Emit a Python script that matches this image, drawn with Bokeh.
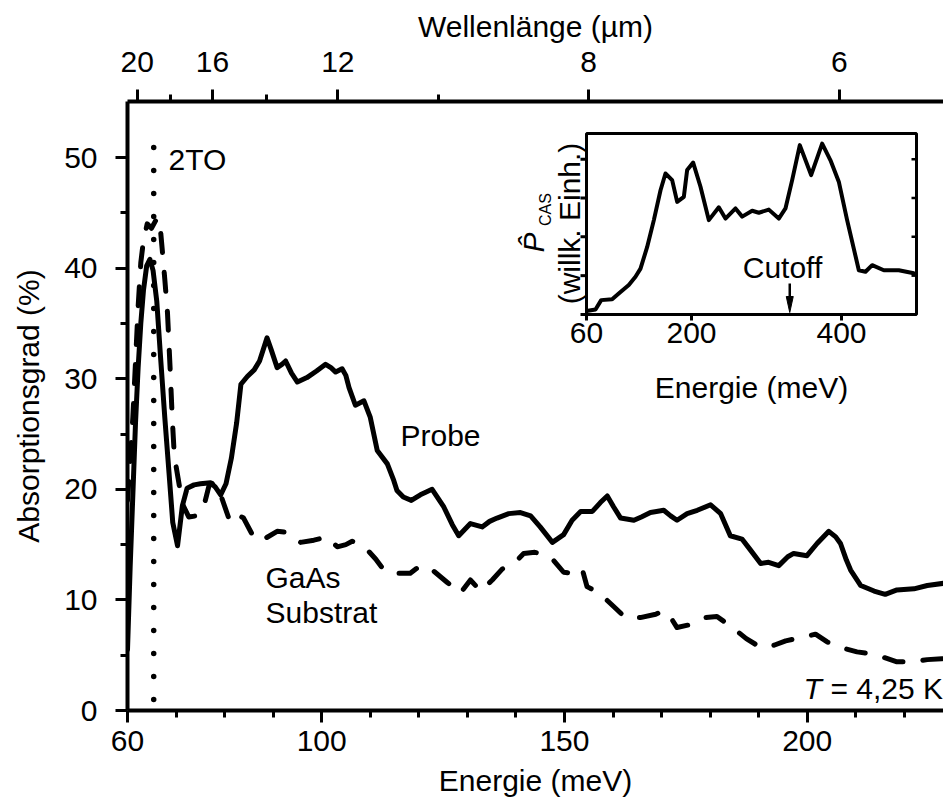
import numpy as np
from bokeh.plotting import figure
from bokeh.models import Range1d, LinearAxis, FixedTicker
from bokeh.core.properties import value
from bokeh.embed import file_html
from bokeh.resources import INLINE

# ---------------- data ----------------
probe_energy = [60.0, 60.55, 61.1, 61.65, 62.19, 62.74, 63.29, 63.95, 64.61, 65.26, 66.03, 66.8,
                67.68, 68.55, 69.32, 70.31, 71.3, 72.28, 73.71, 75.03, 77.11, 78.1, 79.19, 80.29,
                81.39, 82.48, 83.36, 84.68, 86.1, 87.2, 88.08, 88.74, 89.61, 90.82, 91.81, 92.57,
                93.78, 94.99, 96.96, 98.94, 100.8, 101.9, 102.88, 104.2, 104.97, 105.63, 106.94,
                108.7, 110.01, 111.44, 113.52, 114.84, 115.5, 116.81, 118.46, 120.32, 122.74,
                125.15, 126.9, 128.22, 130.63, 133.05, 134.58, 136.12, 138.53, 140.94, 143.03,
                145.0, 147.52, 149.83, 151.58, 153.34, 155.75, 157.4, 158.82, 160.14, 161.57,
                164.3, 165.84, 167.71, 170.45, 171.87, 173.19, 175.27, 177.36, 180.1, 182.18,
                184.16, 186.57, 188.33, 190.41, 192.05, 194.14, 196.0, 197.21, 199.95, 202.03,
                204.45, 205.87, 206.86, 208.07, 208.94, 211.03, 213.77, 216.07, 218.49, 221.99,
                224.74, 228.1]
probe_absorption = [5.5, 13.0, 19.5, 26.0, 31.0, 35.0, 38.0, 40.2, 40.8, 39.8, 37.0, 32.0,
                    26.5, 21.5, 17.0, 14.9, 18.5, 20.1, 20.4, 20.5, 20.6, 20.2, 19.5, 20.5,
                    22.8, 26.0, 29.5, 30.2, 30.8, 31.6, 32.8, 33.7, 32.6, 31.0, 31.3, 31.6,
                    30.5, 29.7, 30.1, 30.7, 31.3, 31.0, 30.6, 30.9, 30.3, 29.2, 27.6,
                    28.0, 26.5, 23.5, 22.3, 20.8, 19.9, 19.3, 19.0, 19.5, 20.0,
                    18.4, 16.8, 15.8, 16.9, 16.6, 17.1, 17.4, 17.8, 17.9, 17.6,
                    16.6, 15.2, 15.9, 17.2, 18.0, 18.0, 18.8, 19.4, 18.4, 17.4,
                    17.2, 17.5, 17.9, 18.1, 17.6, 17.2, 17.8, 18.1, 18.6, 17.8,
                    15.8, 15.5, 14.5, 13.3, 13.4, 13.1, 13.9, 14.2, 14.0, 15.1,
                    16.2, 15.7, 15.1, 13.6, 12.7, 11.3, 10.8, 10.5, 10.9, 11.0,
                    11.3, 11.5]

gaas_energy = [60.0, 60.55, 61.1, 61.65, 62.19, 62.74, 63.29, 64.06, 64.94, 65.81, 66.58, 67.13,
               67.68, 68.23, 68.77, 69.21, 69.65, 70.42, 71.3, 72.61, 74.26, 75.68, 76.78, 77.77,
               79.19, 81.17, 83.03, 83.91, 85.23, 86.32, 88.52, 90.82, 92.9, 94.0, 95.65, 98.39,
               101.13, 103.21, 104.97, 106.28, 108.81, 111.11, 112.65, 114.18, 115.94, 118.24,
               120.32, 123.07, 125.81, 128.55, 130.63, 132.72, 135.13, 137.21, 140.28, 141.6,
               143.9, 146.1, 147.52, 149.83, 151.58, 153.34, 153.78, 154.65, 155.97, 157.72,
               160.14, 162.55, 165.62, 168.8, 170.23, 171.32, 173.19, 176.26, 179.0, 181.42,
               184.6, 187.45, 190.41, 193.15, 195.57, 198.75, 201.71, 204.12, 206.86, 210.26,
               213.44, 215.75, 218.49, 221.78, 224.74, 228.1]
gaas_absorption = [19.0, 22.5, 26.5, 31.5, 36.5, 40.5, 42.5, 44.0, 43.6, 44.3, 44.5, 41.8,
                   39.0, 36.0, 31.0, 26.5, 23.0, 21.0, 18.7, 17.5, 17.6, 18.4, 20.3, 20.6,
                   19.5, 17.0, 17.6, 17.4, 16.3, 15.4, 15.6, 16.2, 16.1, 15.6, 15.2, 15.4,
                   15.7, 14.8, 15.0, 15.3, 14.8, 13.7, 12.8, 12.4, 12.4, 12.4,
                   13.1, 12.6, 11.6, 10.6, 11.8, 10.8, 11.8, 12.8, 13.6, 14.2,
                   14.3, 14.1, 13.7, 12.5, 12.4, 12.2, 12.6, 11.2, 10.9, 10.4,
                   9.4, 8.4, 8.4, 8.7, 9.0, 8.8, 7.5, 7.8, 8.4, 8.5,
                   7.5, 6.5, 5.7, 5.9, 6.3, 6.6, 6.9, 6.2, 5.7, 5.3,
                   5.1, 4.8, 4.4, 4.4, 4.6, 4.7]

inset_energy = [60.0, 72.0, 79.6, 94.2, 103.0, 116.4, 125.3, 132.0, 140.9, 149.8, 158.7, 165.3,
                174.2, 180.9, 189.8, 194.2, 202.2, 212.0, 223.1, 236.4, 245.3, 258.7, 267.6,
                280.9, 289.8, 303.1, 316.4, 325.3, 334.2, 344.4, 359.5, 374.2, 385.3, 396.4,
                407.5, 423.1, 432.0, 440.9, 456.4, 476.4, 496.4, 500.0]
inset_power = [0.09, 0.13, 0.37, 0.39, 0.54, 0.76, 0.97, 1.18, 1.74, 2.43, 3.2, 3.63,
               3.46, 2.9, 3.03, 3.72, 3.91, 3.29, 2.43, 2.76, 2.47, 2.73, 2.52,
               2.67, 2.62, 2.7, 2.47, 2.73, 3.46, 4.36, 3.59, 4.4, 3.97, 3.42,
               2.43, 1.14, 1.1, 1.27, 1.14, 1.14, 1.06, 1.04]

energy_major_ticks = [60, 100, 150, 200]
energy_minor_ticks = [70, 80, 90, 110, 120, 130, 140, 160, 170, 180, 190, 210, 220]
absorption_major_ticks = [0, 10, 20, 30, 40, 50]
absorption_minor_ticks = [5, 15, 25, 35, 45]
wavelength_major_ticks = [20, 16, 12, 8, 6]
wavelength_minor_ticks = [18, 14, 10]
HC = 1239.84  # meV * µm, energy <-> wavelength
two_to_energy = [65.4]
cutoff_energy = [331.0]
inset_energy_ticks = [60, 200, 400]
inset_power_ticks = [0, 1, 2, 3, 4]

# ---------------- layout ----------------
FONT = "Liberation Sans"
FS = "30px"
W, H = 943, 800
L, T, B = 127, 101, 90
XPX = 4.855   # px per meV
YPX = 11.06   # px per %
x_end = 60 + (W - L) / XPX
y_end = (H - T - B) / YPX


def ex(px):
    return 60 + (px - L) / XPX


def ey(py):
    return (H - B - py) / YPX


p = figure(width=W, height=H, x_range=Range1d(60, x_end), y_range=Range1d(0, y_end),
           output_backend="svg", toolbar_location=None,
           min_border_left=L, min_border_right=0, min_border_top=T, min_border_bottom=B,
           outline_line_color=None, background_fill_color="white", border_fill_color="white")
p.grid.visible = False


def style(ax):
    ax.axis_line_width = 4
    ax.axis_line_color = "black"
    ax.major_tick_line_width = 3
    ax.minor_tick_line_width = 3
    ax.major_tick_line_color = "black"
    ax.minor_tick_line_color = "black"
    ax.major_tick_in = 0
    ax.major_tick_out = 12
    ax.minor_tick_in = 0
    ax.minor_tick_out = 7
    ax.major_label_text_font = FONT
    ax.major_label_text_font_size = FS
    ax.major_label_text_color = "black"
    ax.axis_label_text_font = FONT
    ax.axis_label_text_font_size = FS
    ax.axis_label_text_font_style = "normal"
    ax.axis_label_text_color = "black"


xa = p.xaxis[0]
xa.ticker = FixedTicker(ticks=energy_major_ticks, minor_ticks=energy_minor_ticks)
style(xa)
xa.axis_label = "Energie (meV)"
xa.major_label_standoff = 8
xa.axis_label_standoff = 10

ya = p.yaxis[0]
ya.ticker = FixedTicker(ticks=absorption_major_ticks, minor_ticks=absorption_minor_ticks)
style(ya)
ya.axis_label = "Absorptionsgrad (%)"
ya.major_label_standoff = 18
ya.axis_label_standoff = 16

top_major_E = [HC / w for w in wavelength_major_ticks]
top_minor_E = [HC / w for w in wavelength_minor_ticks]
top = LinearAxis(ticker=FixedTicker(ticks=top_major_E, minor_ticks=top_minor_E),
                 major_label_overrides={e: str(w) for e, w in zip(top_major_E, wavelength_major_ticks)},
                 axis_label="Wellenlänge (µm)")
style(top)
top.major_label_standoff = 18
top.axis_label_standoff = 6
p.add_layout(top, "above")

# ---------------- main curves ----------------
p.segment(x0=two_to_energy, y0=[ey(699)], x1=two_to_energy, y1=[ey(125)],
          line_color="black", line_width=5.5, line_dash="0 23", line_cap="round")
p.line(gaas_energy, gaas_absorption, line_color="black", line_width=5,
       line_dash="19 20", line_cap="round", line_join="round")
p.line(probe_energy, probe_absorption, line_color="black", line_width=5,
       line_join="round", line_cap="round")

txt = dict(text_font=value(FONT), text_font_size=FS, text_color="black")
p.text(x=[ex(168)], y=[ey(159)], text=["2TO"], text_align="left", text_baseline="middle", **txt)
p.text(x=[ex(400)], y=[ey(435)], text=["Probe"], text_align="left", text_baseline="middle", **txt)
p.text(x=[ex(265), ex(265)], y=[ey(577), ey(612)], text=["GaAs", "Substrat"],
       text_align="left", text_baseline="middle", **txt)
p.text(x=[ex(803)], y=[ey(688)], text=["T"], text_align="left", text_baseline="middle",
       text_font_style="italic", **txt)
p.text(x=[ex(803)], y=[ey(688)], text=["= 4,25 K"], text_align="left", text_baseline="middle",
       x_offset=27, **txt)

# ---------------- inset ----------------
IL, IR, IT, IB = 586, 916, 133, 314
IX0, IX1, IY0, IY1 = 60, 500, 0, 4.66
ixs = (IR - IL) / (IX1 - IX0)
iys = (IB - IT) / (IY1 - IY0)
ins = p.subplot(x_source=Range1d(IX0, IX1), y_source=Range1d(IY0, IY1),
                x_target=Range1d(ex(IL), ex(IR)), y_target=Range1d(ey(IB), ey(IT)))

ins.quad(left=[IX0], right=[IX1], bottom=[IY0], top=[IY1], fill_color=None,
         line_color="black", line_width=3)
n_y = len(inset_power_ticks)
ins.segment(x0=[IX0] * n_y, y0=inset_power_ticks, x1=[IX0 - 6 / ixs] * n_y, y1=inset_power_ticks,
            line_color="black", line_width=3)
ins.segment(x0=[IX1] * (n_y - 1), y0=inset_power_ticks[1:], x1=[IX1 - 5 / ixs] * (n_y - 1),
            y1=inset_power_ticks[1:], line_color="black", line_width=2.5)
n_x = len(inset_energy_ticks)
ins.segment(x0=inset_energy_ticks, y0=[IY0] * n_x, x1=inset_energy_ticks, y1=[IY0 - 6 / iys] * n_x,
            line_color="black", line_width=3)
ins.line(inset_energy, inset_power, line_color="black", line_width=4, line_join="round")
ins.text(x=inset_energy_ticks, y=[IY0 - 8 / iys] * n_x, text=[str(t) for t in inset_energy_ticks],
         text_align="center", text_baseline="top", **txt)

# cutoff arrow
ins.segment(x0=cutoff_energy, y0=[(IB - 283) / iys], x1=cutoff_energy, y1=[(IB - 298) / iys],
            line_color="black", line_width=2.5)
c = cutoff_energy[0]
ins.patch(x=[c - 3.5 / ixs, c + 3.5 / ixs, c], y=[(IB - 296) / iys, (IB - 296) / iys, (IB - 312) / iys],
          fill_color="black", line_color="black", line_width=1)

p.text(x=[ex(782)], y=[ey(267)], text=["Cutoff"], text_align="center", text_baseline="middle", **txt)
p.text(x=[ex(751)], y=[ey(387)], text=["Energie (meV)"], text_align="center",
       text_baseline="middle", **txt)
p.text(x=[ex(569)], y=[ey(223)], text=["(willk. Einh.)"], angle=np.pi / 2,
       text_align="center", text_baseline="middle", **txt)
p.text(x=[ex(533)], y=[ey(242)], text=["P\u0302"], angle=np.pi / 2, text_align="center",
       text_baseline="middle", text_font_style="italic", **txt)
p.text(x=[ex(545)], y=[ey(209)], text=["CAS"], angle=np.pi / 2, text_align="center",
       text_baseline="middle", text_font=value(FONT), text_font_size="16px", text_color="black")

open("out.html", "w").write(file_html(p, INLINE))
